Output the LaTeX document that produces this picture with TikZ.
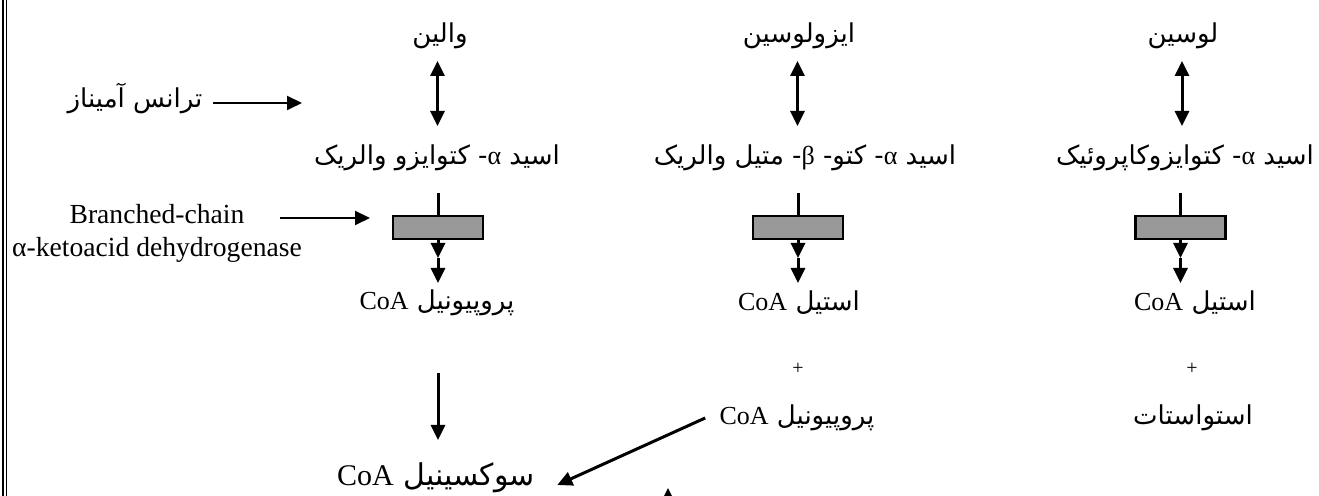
\documentclass[tikz,border=0pt]{standalone}
\usepackage{fontspec}
\setmainfont{Liberation Serif}
\newfontfamily\fa[Script=Arabic]{DejaVu Sans}
\TeXXeTstate=1
\usetikzlibrary{arrows.meta}
\newcommand{\fatext}[1]{{\fa\beginR #1\endR}}
\newcommand{\lat}[1]{\beginL{\rmfamily #1}\endL}

\begin{document}
\begin{tikzpicture}[x=0.5pt,y=-0.5pt,>={Triangle[length=7.5pt,width=7pt]},
   lbl/.style={inner sep=2pt,font=\fontsize{13}{16}\selectfont},
   enz/.style={draw,line width=1.2pt,fill=black!40,minimum width=45pt,minimum height=11.5pt,inner sep=0pt},
   rev/.style={<->,line width=1.5pt},
   fw/.style={->,line width=1.5pt},
   pointer/.style={->,line width=1pt}]
   \useasboundingbox (0,0) rectangle (1319,496);
   \draw[line width=0.7pt] (3,0) -- (3,496) (6.5,0) -- (6.5,496);

   % amino acids
   \node[lbl] (v0) at (440,36)  {\fatext{والین}};
   \node[lbl] (i0) at (799,36)  {\fatext{ایزولوسین}};
   \node[lbl] (l0) at (1183,36) {\fatext{لوسین}};
   % keto acids
   \node[lbl] (v1) at (437,158)  {\fatext{اسید \lat{α}- کتوایزو والریک}};
   \node[lbl] (i1) at (805,158)  {\fatext{اسید \lat{α}- کتو- \lat{β}- متیل والریک}};
   \node[lbl] (l1) at (1185,158) {\fatext{اسید \lat{α}- کتوایزوکاپروئیک}};
   % enzyme complex
   \node[enz] (v2) at (438,227.5)  {};
   \node[enz] (i2) at (798,227.5)  {};
   \node[enz] (l2) at (1180.5,227.5) {};
   % products
   \node[lbl] (v3) at (437,303)  {\fatext{پروپیونیل \lat{CoA}}};
   \node[lbl] (i3) at (799,303)  {\fatext{استیل \lat{CoA}}};
   \node[lbl] (l3) at (1195,303) {\fatext{استیل \lat{CoA}}};
   \node[font=\fontsize{10}{11}\selectfont] (i4) at (798,369)  {+};
   \node[font=\fontsize{10}{11}\selectfont] (l4) at (1192,369) {+};
   \node[lbl] (i5) at (797,418)  {\fatext{پروپیونیل \lat{CoA}}};
   \node[lbl] (l5) at (1193,418) {\fatext{استواستات}};
   \node[lbl,font=\fontsize{15}{18}\selectfont] (s) at (436,478) {\fatext{سوکسینیل \lat{CoA}}};
   % side labels
   \node[lbl] (ta) at (135,98) {\fatext{ترانس آمیناز}};
   \node[lbl,align=center,font=\fontsize{13.8}{16.5}\selectfont] (bc) at (157,233)
      {Branched-chain\\α-ketoacid dehydrogenase};

   \coordinate (tat) at (302,103);
   \coordinate (bcs) at (280,218);
   \coordinate (bct) at (370,218);
   \coordinate (va) at (437.5,61);  \coordinate (vb) at (437.5,126);
   \coordinate (ia) at (797.5,61);  \coordinate (ib) at (797.5,126);
   \coordinate (la) at (1182,61);   \coordinate (lb) at (1182,126);
   \coordinate (vc) at (438,193);   \coordinate (vd) at (438,258);   \coordinate (ve) at (438,283);
   \coordinate (ic) at (798,193);   \coordinate (id) at (798,258);   \coordinate (ie) at (798,283);
   \coordinate (lc) at (1180.5,193);\coordinate (ld) at (1180.5,258);\coordinate (le) at (1180.5,283);
   \coordinate (vf) at (438,373);   \coordinate (vg) at (438,440);
   \coordinate (cut) at (668,488);

   \draw[pointer,shorten <=3pt] (ta.east |- tat) -- (tat);
   \draw[pointer] (bcs) -- (bct);
   \draw[rev] (va) -- (vb);
   \draw[rev] (ia) -- (ib);
   \draw[rev] (la) -- (lb);
   \draw[line width=1.5pt] (vc) -- (v2.north)
                           (ic) -- (i2.north)
                           (lc) -- (l2.north);
   \draw[fw] (v2.south) -- (vd);  \draw[fw] (vd) -- (ve);
   \draw[fw] (i2.south) -- (id);  \draw[fw] (id) -- (ie);
   \draw[fw] (l2.south) -- (ld);  \draw[fw] (ld) -- (le);
   \draw[fw] (vf) -- (vg);
   \draw[fw] ([xshift=-5pt]i5.west) -- ([shift={(9pt,-3.5pt)}]s.east);
   \draw[fw] (668,540) -- (cut);
\end{tikzpicture}
\end{document}
